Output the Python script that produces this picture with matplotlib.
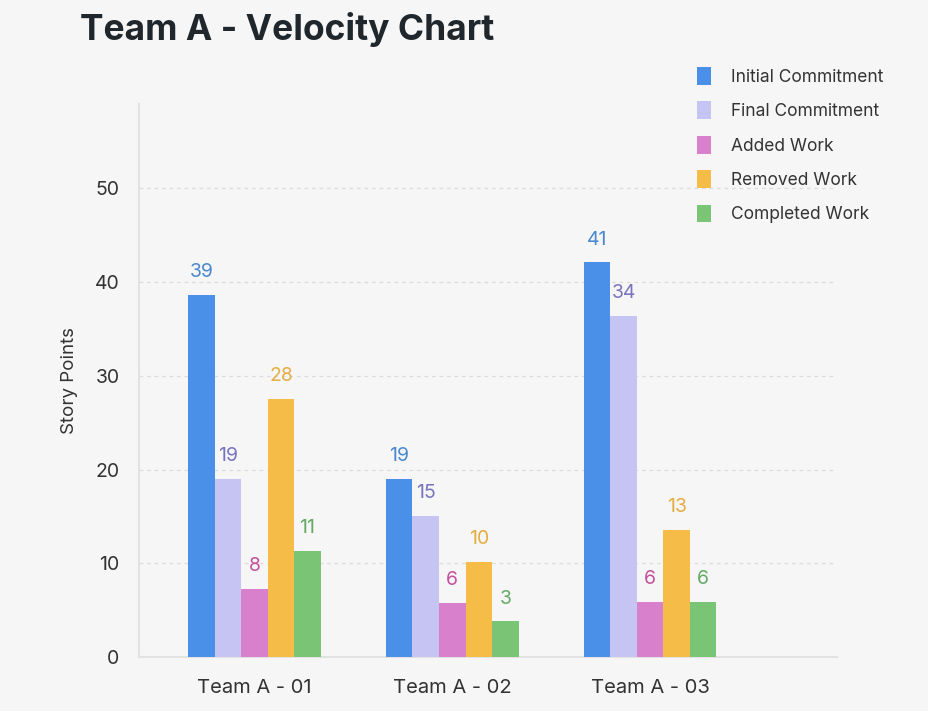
import matplotlib.pyplot as plt
import numpy as np
from matplotlib.patches import Patch

# sprint categories and series (bar heights, labels as printed)
sprints = ["Team A - 01", "Team A - 02", "Team A - 03"]
series = ["Initial Commitment", "Final Commitment", "Added Work", "Removed Work", "Completed Work"]
initial = [38.6, 19.0, 42.1]
final = [19.0, 15.1, 36.4]
added = [7.3, 5.8, 5.9]
removed = [27.5, 10.1, 13.6]
completed = [11.3, 3.8, 5.9]
initial_lbl = [39, 19, 41]
final_lbl = [19, 15, 34]
added_lbl = [8, 6, 6]
removed_lbl = [28, 10, 13]
completed_lbl = [11, 3, 6]

bar_colors = ["#4a90e8", "#c5c4f3", "#d880cb", "#f5bd47", "#79c475"]
text_colors = ["#4a89cf", "#7a74bf", "#c4529d", "#e4ad45", "#66a966"]
bg = "#f5f6f5"

plt.rcParams["font.family"] = ["Inter", "DejaVu Sans"]

fig = plt.figure(figsize=(9.29, 7.11), dpi=100, facecolor=bg)
ax = fig.add_axes([0.1496, 0.0759, 0.7514, 0.7778])
ax.set_facecolor(bg)

values = [initial, final, added, removed, completed]
labels = [initial_lbl, final_lbl, added_lbl, removed_lbl, completed_lbl]
x = np.arange(len(sprints))
w = 0.134

for i, (vals, lbls) in enumerate(zip(values, labels)):
    pos = x + (i - 2) * w
    ax.bar(pos, vals, width=w, color=bar_colors[i], zorder=3)
    for px, v, l in zip(pos, vals, lbls):
        ax.annotate(str(l), (px, v), xytext=(0, 10), textcoords="offset points",
                    ha="center", va="bottom", fontsize=14, color=text_colors[i])

ax.set_xlim(-0.583, 2.944)
ax.set_ylim(0, 59)
ax.set_yticks([0, 10, 20, 30, 40, 50])
ax.set_xticks(x)
ax.set_xticklabels(sprints)
ax.tick_params(axis="both", length=0, colors="#333333")
ax.tick_params(axis="y", pad=14, labelsize=14)
ax.tick_params(axis="x", pad=16, labelsize=14.5)
ax.yaxis.grid(True, linestyle=(0, (3, 3)), color="#dcdcdc", linewidth=0.9, zorder=0)
for sp in ["top", "right"]:
    ax.spines[sp].set_visible(False)
for sp in ["left", "bottom"]:
    ax.spines[sp].set_color("#e2e2e2")
    ax.spines[sp].set_linewidth(1.5)
ax.set_ylabel("Story Points", fontsize=13.5, color="#333333", labelpad=12)

fig.text(0.086, 0.958, "Team A - Velocity Chart", fontsize=25.5, fontweight="bold",
         color="#1f262c", va="center", ha="left")

handles = [Patch(facecolor=c, label=s) for c, s in zip(bar_colors, series)]
fig.legend(handles=handles, loc="upper left", bbox_to_anchor=(0.7405, 0.918),
           frameon=False, fontsize=12.5, labelcolor="#333333", handlelength=0.85,
           handleheight=1.2, handletextpad=1.15, labelspacing=0.9, borderpad=0)

fig.savefig("out.png", dpi=100, facecolor=bg)
